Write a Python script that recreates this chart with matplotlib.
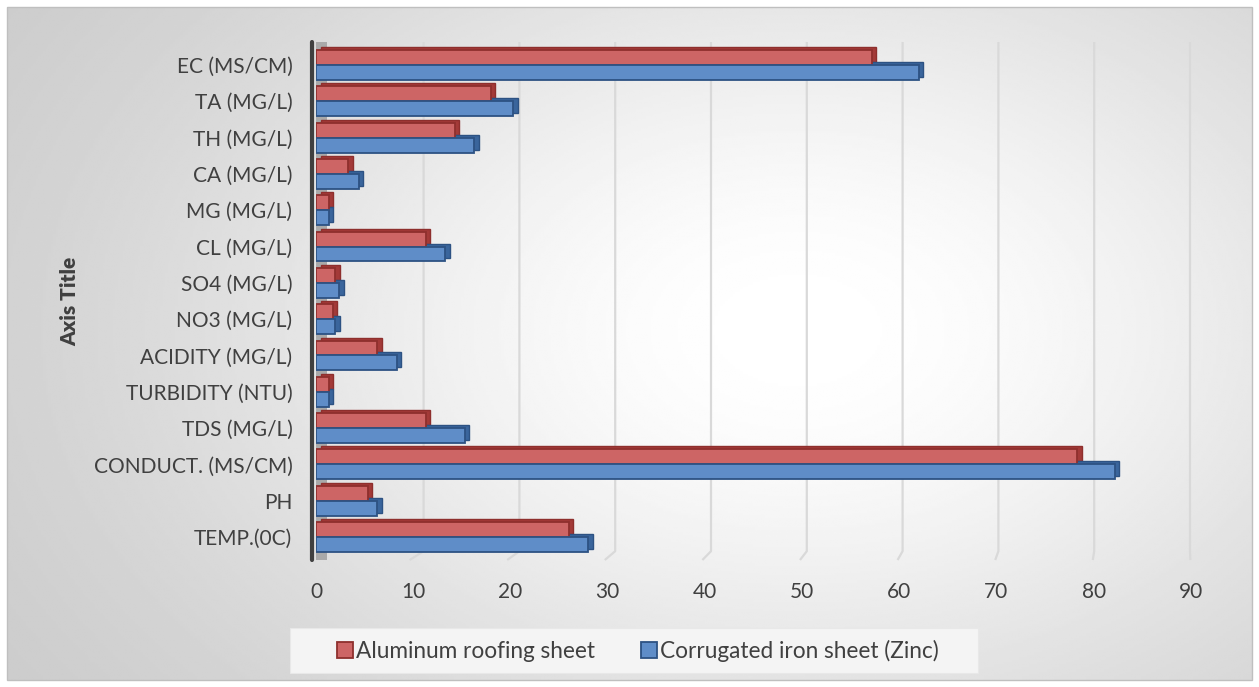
import numpy as np
import matplotlib
matplotlib.use("Agg")
import matplotlib.pyplot as plt
from matplotlib.transforms import offset_copy, blended_transform_factory
from matplotlib.patches import Rectangle

# ---- data -------------------------------------------------------------
categories = [
    "TEMP.(0C)", "PH", "CONDUCT. (MS/CM)", "TDS (MG/L)", "TURBIDITY (NTU)",
    "ACIDITY (MG/L)", "NO3 (MG/L)", "SO4 (MG/L)", "CL (MG/L)", "MG (MG/L)",
    "CA (MG/L)", "TH (MG/L)", "TA (MG/L)", "EC (MS/CM)",
]
aluminum = [26.0, 5.3, 78.3, 11.3, 1.3, 6.3, 1.7, 2.0, 11.3, 1.3, 3.3, 14.3, 18.0, 57.2]
zinc = [28.0, 6.3, 82.2, 15.3, 1.3, 8.3, 2.0, 2.4, 13.3, 1.3, 4.4, 16.3, 20.3, 62.0]
series_names = ["Aluminum roofing sheet", "Corrugated iron sheet (Zinc)"]
xticks = [0, 10, 20, 30, 40, 50, 60, 70, 80, 90]

# ---- style ------------------------------------------------------------
plt.rcParams["font.family"] = ["Lato", "DejaVu Sans"]
TEXT = "#404040"
FS = 15
W, H, DPI = 1259, 687, 100
fig = plt.figure(figsize=(W / DPI, H / DPI), dpi=DPI)
fig.patch.set_facecolor("white")

# chart-area background: soft radial gradient framed by a thin border
bg = fig.add_axes([0, 0, 1, 1], zorder=-10)
bg.set_xlim(0, W)
bg.set_ylim(H, 0)
bg.axis("off")
gx, gy = np.meshgrid(np.linspace(0, W, 500), np.linspace(0, H, 280))
r2 = ((gx - 800) / 620) ** 2 + ((gy - 330) / 420) ** 2
shade = 0.775 + 0.225 * np.exp(-0.9 * r2)
bg.imshow(shade, extent=(7, W - 7, H - 7, 7), cmap="gray", vmin=0, vmax=1,
          interpolation="bilinear", aspect="auto")
bg.add_patch(Rectangle((7, 7), W - 14, H - 14, fill=False, ec="#bfbfbf", lw=1))

# plot area in pixel terms
x0_px, px_per_unit = 316.0, 9.72
top_px, bot_px = 42.0, 560.0
xmax = (W - 10 - x0_px) / px_per_unit
left_f = x0_px / W
ax = fig.add_axes([left_f, 1 - bot_px / H, (W - 10) / W - left_f, (bot_px - top_px) / H])
ax.set_facecolor("none")
ax.set_xlim(0, xmax)
n = len(categories)
step = 36.3
ax.set_ylim(-(bot_px - 537) / step, (n - 1) + (65 - top_px) / step)
for s in ax.spines.values():
    s.set_visible(False)


def px2x(px):
    return (px - x0_px) / px_per_unit


# back-wall gridlines bending onto the floor
gtrans = blended_transform_factory(ax.transData, ax.transAxes)
for v in xticks[1:]:
    xb = px2x(327.8 + 9.58 * v)
    xf = px2x(312.0 + 9.76 * v)
    ax.plot([xb, xb, xf], [1.0, 0.017, 0.0], transform=gtrans, color="#d9d9d9",
            lw=1.6, zorder=1, clip_on=False, solid_capstyle="butt")

# side wall: shaded depth band and dark edge
ax.axvspan(px2x(313), px2x(327), ymin=0.0, ymax=1.0, color="#a9a9a9", zorder=1.5, lw=0)
ax.plot([px2x(311.5)] * 2, [0.0, 1.0], transform=gtrans, color="#404040", lw=3,
        zorder=6, clip_on=False, solid_capstyle="round")

# bars with a small extruded depth face
y = np.arange(n)
bh = 0.41
series = [
    (aluminum, y + bh / 2, "#cd6565", "#8e2f2d", "#a33a38"),
    (zinc, y - bh / 2, "#5f8dc8", "#2d5283", "#3a659c"),
]
depth = offset_copy(ax.transData, fig=fig, x=4.5, y=3.0, units="dots")
handles = []
for vals, pos, face, edge, side in series:
    ax.barh(pos, vals, height=bh, color=side, edgecolor=edge, lw=1.0,
            transform=depth, zorder=3)
    b = ax.barh(pos, vals, height=bh, color=face, edgecolor=edge, lw=1.3, zorder=4)
    handles.append(b)

# axes text
ax.set_yticks(y)
ax.set_yticklabels(categories, fontsize=FS, color=TEXT)
ax.tick_params(axis="y", length=0, pad=17)
ax.set_xticks(xticks)
ax.set_xticklabels([str(t) for t in xticks], fontsize=FS, color=TEXT)
ax.tick_params(axis="x", length=0, pad=16)
for lbl, v in zip(ax.get_xticklabels(), xticks):
    lbl.set_transform(lbl.get_transform() + offset_copy(fig.dpi_scale_trans, fig=fig,
                      x=-6 + 0.04 * v, y=0, units="dots") - fig.dpi_scale_trans)

fig.text(70 / W, 1 - 301 / H, "Axis Title", rotation=90, ha="center", va="center",
         fontsize=FS, fontweight="heavy", color=TEXT)

# legend box
bg.add_patch(Rectangle((290, 628), 688, 45, fc="#f4f4f4", ec="#e8e8e8", lw=0.8, zorder=2))
leg = fig.legend(handles, series_names, loc="center", bbox_to_anchor=(638 / W, 1 - 651 / H),
                 ncol=2, frameon=False, fontsize=16.3, handlelength=0.7, handleheight=0.7,
                 handletextpad=0.15, columnspacing=2.0, labelcolor=TEXT)

fig.savefig("out.png", dpi=DPI)
